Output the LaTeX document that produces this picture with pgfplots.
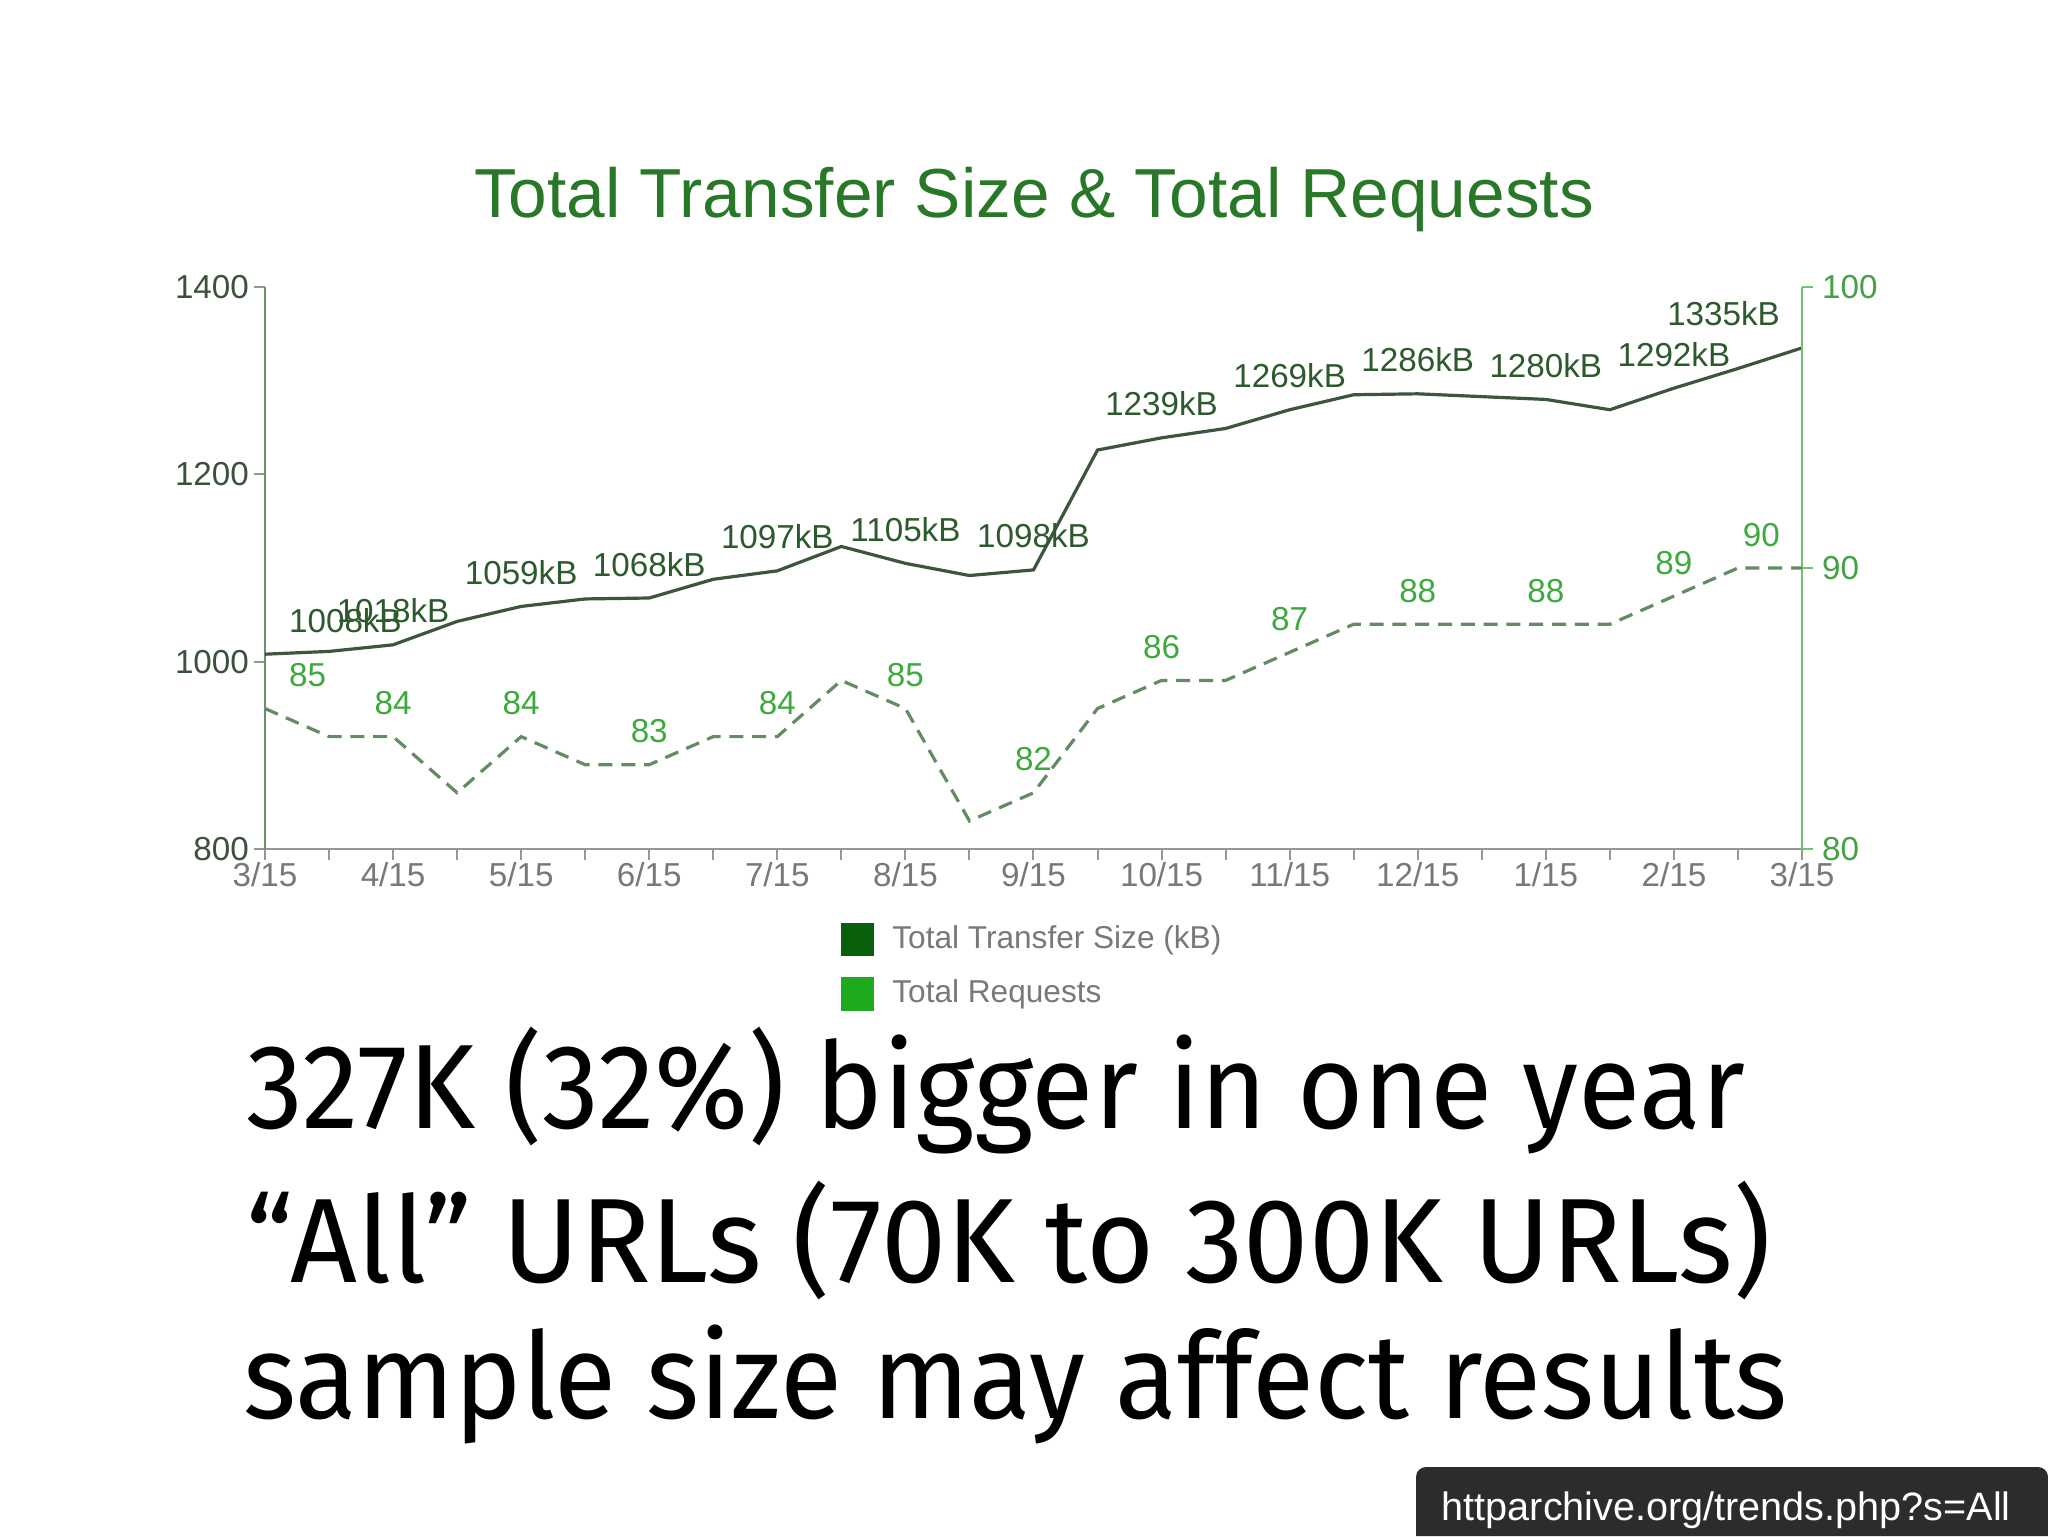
\documentclass[border=0pt]{standalone}
\usepackage{pgfplots}
\pgfplotsset{compat=1.18}
\usepackage{graphicx}
\usepackage{fontspec}
\setmainfont{Liberation Sans}
\newfontfamily\fira{Fira Sans}

\definecolor{titlegreen}{RGB}{40,120,40}
\definecolor{sizelab}{RGB}{45,90,45}
\definecolor{sizeline}{RGB}{60,85,60}
\definecolor{reqlab}{RGB}{60,170,60}
\definecolor{reqline}{RGB}{100,140,100}
\definecolor{leftax}{RGB}{110,140,110}
\definecolor{leftlab}{RGB}{60,80,60}
\definecolor{rightax}{RGB}{120,190,120}
\definecolor{rightlab}{RGB}{70,160,70}
\definecolor{axgray}{RGB}{150,150,150}
\definecolor{labgray}{RGB}{120,120,120}
\definecolor{legdark}{RGB}{10,95,10}
\definecolor{leglight}{RGB}{30,170,30}
\definecolor{urlbg}{RGB}{45,43,45}

% half-month steps, 0 = 3/15 ... 24 = 3/15 next year
\pgfplotstableread{
x size req
0 1008 85
1 1011 84
2 1018 84
3 1043 82
4 1059 84
5 1067 83
6 1068 83
7 1088 84
8 1097 84
9 1123 86
10 1105 85
11 1092 81
12 1098 82
13 1226 85
14 1239 86
15 1249 86
16 1269 87
17 1285 88
18 1286 88
19 1283 88
20 1280 88
21 1269 88
22 1292 89
23 1313 90
24 1335 90
}\trend

\newcommand{\lblfont}{\fontsize{8.3}{10}\selectfont}

\begin{document}
\begin{tikzpicture}
\path[use as bounding box, fill=white] (0,0) rectangle (512pt,-384pt);

\node[anchor=base, text=titlegreen, font=\fontsize{17.35}{20}\selectfont] at (258.5pt,-54.25pt)
  {Total Transfer Size \& Total Requests};

\begin{axis}[
    at={(66.25pt,-212.25pt)}, anchor=south west,
    scale only axis, width=384.25pt, height=140.5pt,
    xmin=0, xmax=24, ymin=800, ymax=1400,
    axis y line*=left, axis x line*=bottom,
    axis line style={-},
    x axis line style={draw=axgray, line width=0.6pt},
    y axis line style={draw=leftax, line width=0.6pt},
    xtick={0,2,...,24}, minor xtick={1,3,...,23},
    xticklabels={3/15,4/15,5/15,6/15,7/15,8/15,9/15,10/15,11/15,12/15,1/15,2/15,3/15},
    ytick={800,1000,1200,1400},
    tick align=outside,
    major tick length=2.8pt, minor tick length=2.8pt,
    tick style={draw=axgray, line width=0.5pt},
    scaled ticks=false,
    /pgf/number format/1000 sep={},
    /pgf/number format/assume math mode=true,
    xticklabel style={font=\lblfont, text=labgray, yshift=3pt},
    yticklabel style={font=\lblfont, text=leftlab, xshift=2.3pt},
    clip=false,
    legend style={at={(0.3741,-0.1299)}, anchor=north west, draw=none, fill=none,
        inner sep=0pt, font=\fontsize{7.9}{9.5}\selectfont, text=labgray, row sep=5.2pt,
        nodes={inner sep=0pt, anchor=west}},
    legend cell align=left,
    legend image code/.code={\fill[#1] (0pt,-4pt) rectangle (8pt,4pt);},
    every axis legend/.append style={column sep=4.5pt},
]
\addplot[sizeline, line width=0.8pt] table[x=x, y=size] {\trend};
\addlegendimage{legdark}
\addlegendimage{leglight}
\legend{,Total Transfer Size (kB),Total Requests}
\begin{scope}[every node/.style={font=\lblfont, text=sizelab, anchor=base, yshift=5.5pt}]
\node[anchor=base west, xshift=2.5pt] at (axis cs:0,1008) {1008kB};
\node at (axis cs:2,1018) {1018kB};
\node at (axis cs:4,1059) {1059kB};
\node at (axis cs:6,1068) {1068kB};
\node at (axis cs:8,1097) {1097kB};
\node at (axis cs:10,1105) {1105kB};
\node at (axis cs:12,1098) {1098kB};
\node at (axis cs:14,1239) {1239kB};
\node at (axis cs:16,1269) {1269kB};
\node at (axis cs:18,1286) {1286kB};
\node at (axis cs:20,1280) {1280kB};
\node at (axis cs:22,1292) {1292kB};
\node[anchor=base east, xshift=-2pt] at (axis cs:24,1335) {1335kB};
\end{scope}
\end{axis}

\begin{axis}[
    at={(66.25pt,-212.25pt)}, anchor=south west,
    scale only axis, width=384.25pt, height=140.5pt,
    xmin=0, xmax=24, ymin=80, ymax=100,
    axis y line*=right, axis x line=none,
    axis line style={-},
    y axis line style={draw=rightax, line width=0.6pt},
    ytick={80,90,100},
    tick align=outside,
    major tick length=2.8pt,
    tick style={draw=rightax, line width=0.5pt},
    /pgf/number format/assume math mode=true,
    yticklabel style={font=\lblfont, text=rightlab, xshift=-1.3pt},
    clip=false,
]
\addplot[reqline, line width=0.8pt, dash pattern=on 3.5pt off 2.2pt] table[x=x, y=req] {\trend};
\begin{scope}[every node/.style={font=\lblfont, text=reqlab, anchor=base, yshift=5.5pt}]
\node[anchor=base west, xshift=2.5pt] at (axis cs:0,85) {85};
\node at (axis cs:2,84) {84};
\node at (axis cs:4,84) {84};
\node at (axis cs:6,83) {83};
\node at (axis cs:8,84) {84};
\node at (axis cs:10,85) {85};
\node at (axis cs:12,82) {82};
\node at (axis cs:14,86) {86};
\node at (axis cs:16,87) {87};
\node at (axis cs:18,88) {88};
\node at (axis cs:20,88) {88};
\node at (axis cs:22,89) {89};
\node[anchor=base east, xshift=-2pt] at (axis cs:24,90) {90};
\end{scope}
\end{axis}

\begin{scope}[every node/.style={anchor=base west, inner sep=0pt}]
\node at (61.5pt,-282pt) {\resizebox{374.5pt}{\height}{\fira\fontsize{30}{36}\selectfont 327K (32\%) bigger in one year}};
\node at (61.5pt,-320.5pt) {\resizebox{381pt}{\height}{\fira\fontsize{30}{36}\selectfont “All” URLs (70K to 300K URLs)}};
\node at (60.75pt,-354.5pt) {\resizebox{386pt}{\height}{\fira\fontsize{30}{36}\selectfont sample size may affect results}};
\end{scope}

\fill[urlbg] (354pt,-384pt) [rounded corners=2.5pt] -- (354pt,-366.75pt) -- (512pt,-366.75pt) [sharp corners] -- (512pt,-384pt) -- cycle;
\node[anchor=base west, inner sep=0pt, text=white, font=\fontsize{9.9}{12}\selectfont] at (360.25pt,-380pt) {httparchive.org/trends.php?s=All};
\end{tikzpicture}
\end{document}
